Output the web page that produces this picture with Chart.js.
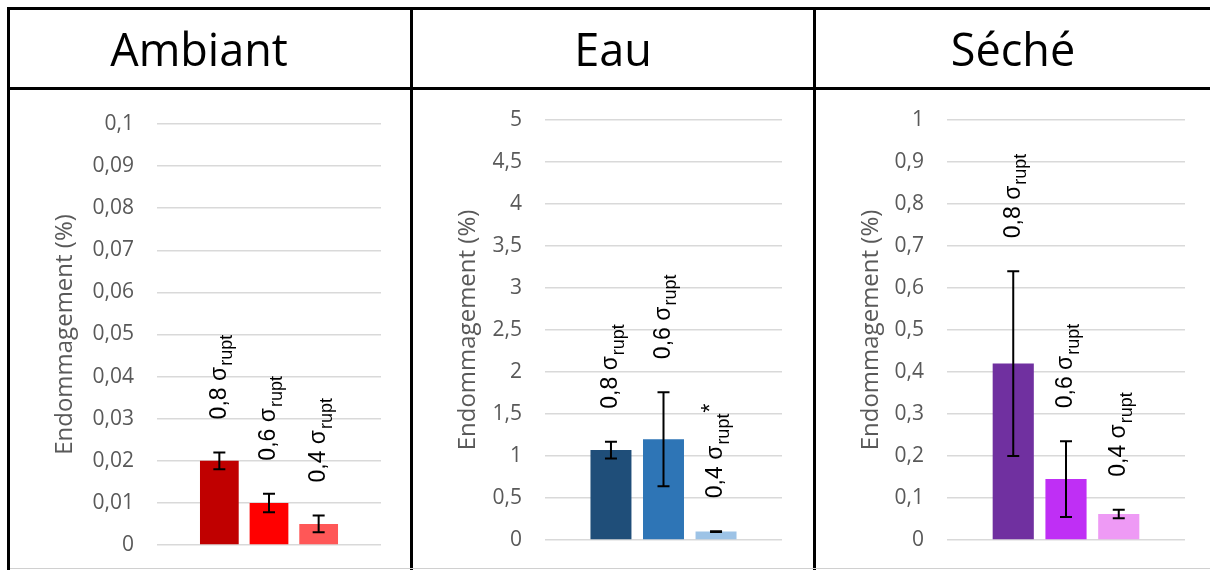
<!DOCTYPE html>
<html>
<head>
<meta charset="utf-8">
<script src="https://cdn.jsdelivr.net/npm/chart.js@4/dist/chart.umd.min.js"></script>
<style>
  body { margin: 0; background: #fff; width: 1210px; height: 570px; position: relative; overflow: hidden; font-family: "Open Sans", sans-serif; }
  .line { position: absolute; background: #000; }
  .title { position: absolute; top: 10px; height: 77px; line-height: 77px; text-align: center; font-size: 45px; color: #000; }
  canvas { position: absolute; top: 80px; }
</style>
</head>
<body>
<canvas id="c_ambiant" width="399" height="510" style="left:10px"></canvas>
<canvas id="c_eau" width="399" height="510" style="left:413px"></canvas>
<canvas id="c_seche" width="394" height="510" style="left:816px"></canvas>

<div class="line" style="left:8px;top:7px;width:1202px;height:3px"></div>
<div class="line" style="left:8px;top:87px;width:1202px;height:3px"></div>
<div class="line" style="left:7px;top:7px;width:3px;height:563px"></div>
<div class="line" style="left:410px;top:7px;width:3px;height:563px"></div>
<div class="line" style="left:813px;top:7px;width:3px;height:563px"></div>
<div class="line" style="left:10px;top:568px;width:1200px;height:1px;background:#d0d0d0"></div>

<div class="title" style="left:10px;width:378px">Ambiant</div>
<div class="title" style="left:413px;width:400px">Eau</div>
<div class="title" style="left:816px;width:394px">Séché</div>

<script>
// niveaux de contrainte
const seriesLabels = ["0,8 σ", "0,6 σ", "0,4 σ"];
const seriesSub = "rupt";

// Ambiant
const ambiantValues = [0.02, 0.01, 0.005];
const ambiantErrors = [0.002, 0.0022, 0.002];
const ambiantColors = ["#C00000", "#FF0000", "#FF5757"];
const ambiantNotes = ["", "", ""];

// Eau
const eauValues = [1.07, 1.2, 0.1];
const eauErrors = [0.1, 0.56, 0.005];
const eauColors = ["#1F4E79", "#2E75B6", "#9DC3E6"];
const eauNotes = ["", "", "*"];

// Séché
const secheValues = [0.42, 0.145, 0.062];
const secheErrors = [0.22, 0.09, 0.01];
const secheColors = ["#7030A0", "#BF2FF5", "#EE9AF5"];
const secheNotes = ["", "", ""];

const axisTitle = "Endommagement (%)";

function fmt(v) {
  return String(parseFloat(v.toFixed(4))).replace(".", ",");
}

// barres d'erreur + étiquettes verticales
const annotate = {
  id: 'annotate',
  afterDatasetsDraw(chart, args, opts) {
    const ctx = chart.ctx;
    const y = chart.scales.y;
    chart.data.datasets.forEach(function (ds, i) {
      const bar = chart.getDatasetMeta(i).data[0];
      const v = ds.data[0], e = opts.errors[i];
      const yTop = y.getPixelForValue(v + e), yBot = y.getPixelForValue(v - e);
      ctx.save();
      ctx.strokeStyle = "#000";
      ctx.lineWidth = 2;
      ctx.beginPath();
      ctx.moveTo(bar.x, yTop); ctx.lineTo(bar.x, yBot);
      ctx.moveTo(bar.x - 6, yTop); ctx.lineTo(bar.x + 6, yTop);
      ctx.moveTo(bar.x - 6, yBot); ctx.lineTo(bar.x + 6, yBot);
      ctx.stroke();

      // texte tourné
      ctx.translate(bar.x, yTop - 33);
      ctx.rotate(-Math.PI / 2);
      ctx.fillStyle = "#000";
      ctx.textBaseline = "middle";
      ctx.textAlign = "left";
      ctx.font = "23px 'Liberation Sans', Arial, sans-serif";
      const main = seriesLabels[i];
      ctx.fillText(main, 0, 0);
      const w = ctx.measureText(main).width;
      ctx.font = "18px 'Liberation Sans', Arial, sans-serif";
      ctx.fillText(seriesSub, w + 1, 8);
      const ws = ctx.measureText(seriesSub).width;
      if (opts.notes[i]) {
        ctx.font = "23px 'Liberation Sans', Arial, sans-serif";
        ctx.fillText(opts.notes[i], w + ws + 2, -4);
      }
      ctx.restore();
    });
  }
};

function makePanel(id, values, errors, colors, notes, yMax, yStep, pad, scaleWidth) {
  new Chart(document.getElementById(id), {
    type: 'bar',
    data: {
      labels: [""],
      datasets: values.map(function (v, i) {
        return {
          label: seriesLabels[i] + seriesSub,
          data: [v],
          backgroundColor: colors[i],
          categoryPercentage: 0.665,
          barPercentage: 0.78
        };
      })
    },
    options: {
      responsive: false,
      animation: false,
      devicePixelRatio: 1,
      layout: { padding: pad },
      plugins: {
        legend: { display: false },
        tooltip: { enabled: false },
        annotate: { errors: errors, notes: notes }
      },
      scales: {
        x: { display: false },
        y: {
          min: 0,
          max: yMax,
          border: { display: false },
          grid: { color: "#D9D9D9", lineWidth: 1.5, drawTicks: false },
          ticks: {
            stepSize: yStep,
            padding: 23,
            color: "#595959",
            font: { family: "'Open Sans'", size: 21 },
            callback: function (v) { return fmt(v); }
          },
          title: {
            display: true,
            text: axisTitle,
            color: "#595959",
            font: { family: "'Open Sans'", size: 24 },
            padding: { top: 41, bottom: 0 }
          },
          afterFit: function (s) { s.width = scaleWidth; }
        }
      }
    },
    plugins: [annotate]
  });
}

makePanel("c_ambiant", ambiantValues, ambiantErrors, ambiantColors, ambiantNotes, 0.1, 0.01,
  { top: 44, bottom: 45, left: 0, right: 28 }, 147);
makePanel("c_eau", eauValues, eauErrors, eauColors, eauNotes, 5, 0.5,
  { top: 40, bottom: 50, left: 0, right: 30 }, 132);
makePanel("c_seche", secheValues, secheErrors, secheColors, secheNotes, 1, 0.1,
  { top: 40, bottom: 50, left: 0, right: 25 }, 131);
</script>
</body>
</html>
